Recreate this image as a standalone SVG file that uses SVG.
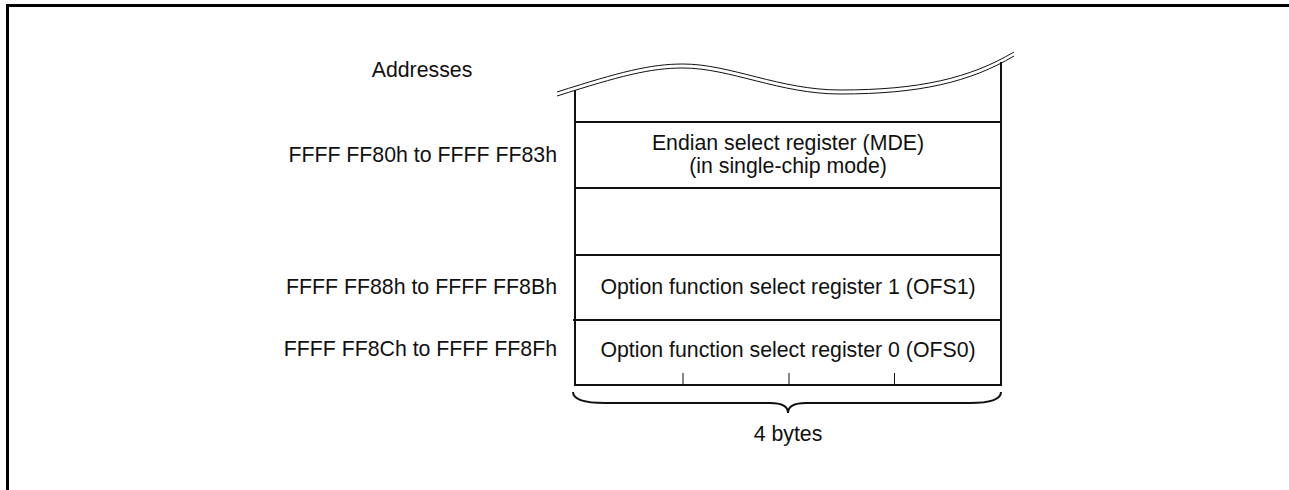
<svg xmlns="http://www.w3.org/2000/svg" width="1289" height="490" viewBox="0 0 1289 490">
<style>
text{font-family:"Liberation Sans",Arial,sans-serif;font-size:21.3px;fill:#111}
.lbl{text-anchor:end}
.mid{text-anchor:middle}
.box{stroke:#111;stroke-width:2;fill:none}
.frame{stroke:#000;stroke-width:3;fill:none}
.thin{stroke:#111;stroke-width:1;fill:none}
</style>
<rect width="1289" height="490" fill="#fff"/>
<g id="frame">
<line x1="6" y1="5.5" x2="1289" y2="5.5" class="frame"/>
<line x1="7.5" y1="4" x2="7.5" y2="490" class="frame"/>
</g>
<g id="wave">
<path class="thin" d="M557,92 C620,72 650,64 683,64 C730,64 780,90 840,90 C920,90 970,78 1014,52"/>
<path class="thin" d="M557,96 C620,76 650,68 683,68 C730,68 780,94 840,94 C920,94 970,82 1014,56"/>
</g>
<g id="addresses-title"><text x="422" y="77" class="mid">Addresses</text></g>
<g id="memory-block">
<line x1="575" y1="90" x2="575" y2="386" class="box"/>
<line x1="1001" y1="62" x2="1001" y2="386" class="box"/>
<line x1="575" y1="122" x2="1001" y2="122" class="box"/>
<line x1="575" y1="188" x2="1001" y2="188" class="box"/>
<line x1="575" y1="255" x2="1001" y2="255" class="box"/>
<line x1="573" y1="320" x2="1001" y2="320" class="box"/>
<line x1="574" y1="385" x2="1002" y2="385" class="box"/>
</g>
<g id="mde">
<text x="788" y="150" class="mid">Endian select register (MDE)</text>
<text x="788" y="172.5" class="mid">(in single-chip mode)</text>
<text x="557" y="162" class="lbl">FFFF FF80h to FFFF FF83h</text>
</g>
<g id="ofs1">
<text x="788" y="293.5" class="mid">Option function select register 1 (OFS1)</text>
<text x="557" y="293.5" class="lbl">FFFF FF88h to FFFF FF8Bh</text>
</g>
<g id="ofs0">
<text x="788" y="356.5" class="mid">Option function select register 0 (OFS0)</text>
<text x="557" y="355.5" class="lbl">FFFF FF8Ch to FFFF FF8Fh</text>
<line x1="683" y1="373" x2="683" y2="385" class="thin"/>
<line x1="789" y1="373" x2="789" y2="385" class="thin"/>
<line x1="894.5" y1="373" x2="894.5" y2="385" class="thin"/>
</g>
<g id="brace">
<path class="box" d="M573,392 C573,400 585,403 605,403 L770,403 C782,403 788,407 788,413 C788,407 794,403 806,403 L970,403 C990,403 1001,400 1001,392"/>
<text x="788" y="441" class="mid">4 bytes</text>
</g>
</svg>
